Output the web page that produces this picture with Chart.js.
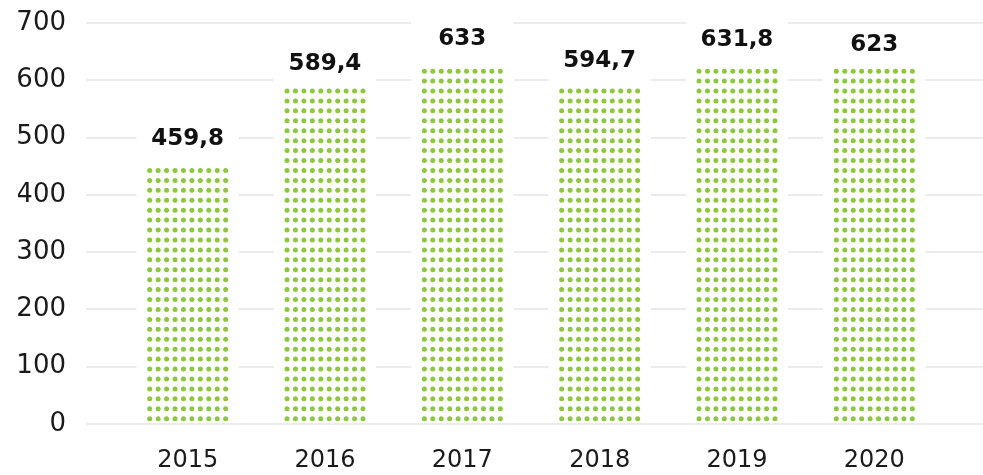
<!DOCTYPE html>
<html lang="en">
<head>
    <meta charset="UTF-8">
    <title>Output 2015-2020</title>
    <script src="https://cdn.jsdelivr.net/npm/chart.js@4"></script>
    <style>
        html, body { margin: 0; padding: 0; background: #fff; }
        .chart-container { position: relative; width: 983px; height: 475px; }
    </style>
</head>
<body>
    <div class="chart-container">
        <canvas id="outputChart"></canvas>
    </div>

    <script>
        // Yearly values and axis settings
        const years = ['2015', '2016', '2017', '2018', '2019', '2020'];
        const output = [459.8, 589.4, 633, 594.7, 631.8, 623];
        const yMin = 0;
        const yMax = 700;
        const yStep = 100;

        const GREEN = '#8dc63f';
        const GRID = '#ebebeb';
        const AXIS_FONT = '"DejaVu Sans", sans-serif';

        // fixed axis box sizes; tick padding would otherwise also grow the chart insets
        function fixAxisBox(size) {
            return scale => {
                if (scale.isHorizontal()) scale.height = size;
                else scale.width = size;
                scale.paddingTop = 0;
                scale.paddingBottom = 0;
                scale.paddingLeft = 0;
                scale.paddingRight = 0;
            };
        }

        // Gridlines with white gaps around each column, then the dotted fill and value labels
        const dottedBars = {
            id: 'dottedBars',
            beforeDatasetsDraw(chart) {
                const { ctx, scales: { y } } = chart;
                const bars = chart.getDatasetMeta(0).data;
                const zero = y.getPixelForValue(0);
                ctx.save();
                ctx.strokeStyle = GRID;
                ctx.lineWidth = 2;
                y.ticks.forEach(t => {
                    const py = Math.round(y.getPixelForValue(t.value));
                    ctx.beginPath();
                    ctx.moveTo(86, py);
                    ctx.lineTo(chart.width, py);
                    ctx.stroke();
                });
                ctx.fillStyle = '#fff';
                bars.forEach(b => {
                    const top = b.y - 40;
                    ctx.fillRect(b.x - b.width / 2 - 10, top, b.width + 20, zero - 2 - top);
                });
                ctx.restore();
            },
            afterDatasetsDraw(chart) {
                const { ctx } = chart;
                const bars = chart.getDatasetMeta(0).data;
                const r = 2.5, sx = 8.44, sy = 9.93;
                ctx.save();
                ctx.fillStyle = GREEN;
                bars.forEach(b => {
                    const cols = Math.floor((b.width - 2 * r) / sx) + 1;
                    const x0 = b.x - (cols - 1) * sx / 2;
                    for (let cy = b.base - 5.3; cy - r >= b.y; cy -= sy) {
                        for (let c = 0; c < cols; c++) {
                            ctx.beginPath();
                            ctx.arc(x0 + c * sx, cy, r, 0, Math.PI * 2);
                            ctx.fill();
                        }
                    }
                });
                ctx.fillStyle = '#111';
                ctx.font = 'bold 23px ' + AXIS_FONT;
                ctx.textAlign = 'center';
                ctx.textBaseline = 'middle';
                bars.forEach((b, i) => {
                    ctx.fillText(String(output[i]).replace('.', ','), b.x, b.y - 22);
                });
                ctx.restore();
            }
        };

        const ctx = document.getElementById('outputChart').getContext('2d');
        const outputChart = new Chart(ctx, {
            type: 'bar',
            data: {
                labels: years,
                datasets: [{
                    data: output,
                    backgroundColor: 'rgba(0,0,0,0)',
                    borderWidth: 0,
                    barPercentage: 0.6,
                    categoryPercentage: 1
                }]
            },
            options: {
                responsive: true,
                maintainAspectRatio: false,
                animation: false,
                layout: {
                    padding: { top: 23, left: 18, right: 40, bottom: 5 }
                },
                plugins: {
                    legend: { display: false },
                    tooltip: { enabled: false }
                },
                scales: {
                    x: {
                        afterFit: fixAxisBox(46),
                        grid: { display: false, drawTicks: false },
                        border: { display: false },
                        ticks: {
                            padding: 22,
                            color: '#1a1a1a',
                            font: { family: AXIS_FONT, size: 24, weight: 'normal' }
                        }
                    },
                    y: {
                        min: yMin,
                        max: yMax,
                        afterFit: fixAxisBox(101),
                        grid: { display: false, drawTicks: false },
                        border: { display: false },
                        ticks: {
                            stepSize: yStep,
                            padding: 53,
                            color: '#1a1a1a',
                            font: { family: AXIS_FONT, size: 26, weight: 'normal' }
                        }
                    }
                }
            },
            plugins: [dottedBars]
        });
    </script>
</body>
</html>
